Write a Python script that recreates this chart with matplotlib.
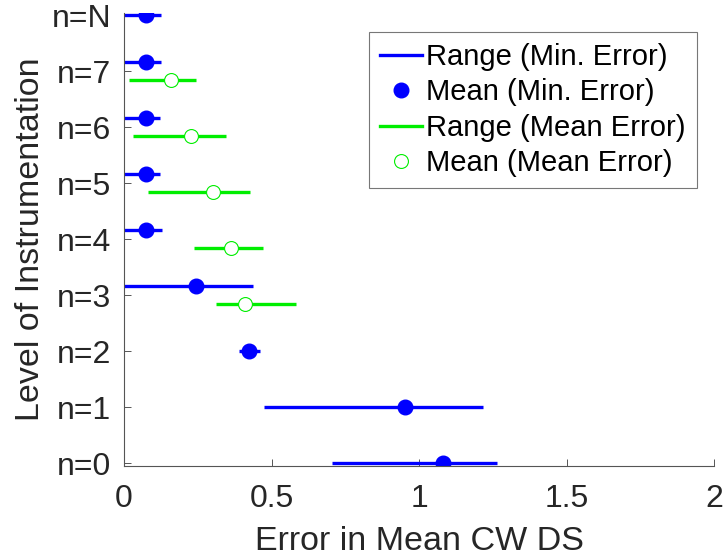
import numpy as np
import matplotlib.pyplot as plt
from matplotlib.lines import Line2D

plt.rcParams['font.family'] = ['Liberation Sans', 'DejaVu Sans']

# Livelli di strumentazione (dal basso verso l'alto)
livelli = ['n=0', 'n=1', 'n=2', 'n=3', 'n=4', 'n=5', 'n=6', 'n=7', 'n=N']

# Errore minimo: min, media, max per livello
min_lo   = [0.703, 0.475, 0.390, 0.000, 0.000, 0.000, 0.000, 0.000, 0.000]
min_mean = [1.081, 0.953, 0.424, 0.245, 0.074, 0.074, 0.076, 0.074, 0.074]
min_hi   = [1.263, 1.215, 0.462, 0.437, 0.127, 0.123, 0.123, 0.125, 0.125]

# Errore medio (solo n=3..7)
liv_mean  = [3, 4, 5, 6, 7]
mean_lo   = [0.311, 0.237, 0.080, 0.030, 0.017]
mean_mean = [0.409, 0.364, 0.302, 0.228, 0.160]
mean_hi   = [0.582, 0.472, 0.427, 0.345, 0.245]

blu = '#0000ff'
verde = '#00ee00'
off = 0.16

fig = plt.figure(figsize=(7.24, 5.6), dpi=100)
ax = fig.add_axes([0.1713, 0.1684, 0.8153, 0.8076])

y = np.arange(len(livelli), dtype=float)
y_blu = y.copy()
for k in liv_mean:
    y_blu[k] = k + off
y_verde = np.array(liv_mean) - off

for i in range(len(livelli)):
    ax.plot([min_lo[i], min_hi[i]], [y_blu[i], y_blu[i]], color=blu, lw=2.4, solid_capstyle='butt')
ax.plot(min_mean, y_blu, 'o', color=blu, ms=10.5, ls='none')

for i in range(len(liv_mean)):
    ax.plot([mean_lo[i], mean_hi[i]], [y_verde[i], y_verde[i]], color=verde, lw=2.4, solid_capstyle='butt')
ax.plot(mean_mean, y_verde, 'o', mfc='white', mec=verde, ms=10, mew=0.8, ls='none')

ax.set_xlim(0, 2)
ax.set_ylim(-0.04, 8.03)
ax.set_xticks([0, 0.5, 1, 1.5, 2])
ax.set_xticklabels(['0', '0.5', '1', '1.5', '2'])
ax.set_yticks(y)
ax.set_yticklabels(livelli)

for s in ['top', 'right']:
    ax.spines[s].set_visible(False)
for s in ['left', 'bottom']:
    ax.spines[s].set_color('#555555')
    ax.spines[s].set_linewidth(0.8)
ax.tick_params(direction='in', length=5, width=0.7, color='#555555',
               labelsize=23, labelcolor='#262626')
ax.tick_params(axis='x', pad=13)
ax.tick_params(axis='y', pad=9)

ax.set_xlabel('Error in Mean CW DS', fontsize=24.5, color='#262626', labelpad=9)
ax.set_ylabel('Level of Instrumentation', fontsize=24.5, color='#262626', labelpad=4)

handles = [
    Line2D([], [], color=blu, lw=2.4),
    Line2D([], [], color=blu, marker='o', ls='none', ms=10.5),
    Line2D([], [], color=verde, lw=2.4),
    Line2D([], [], marker='o', ls='none', mfc='white', mec=verde, ms=10, mew=0.8),
]
labels = ['Range (Min. Error)', 'Mean (Min. Error)', 'Range (Mean Error)', 'Mean (Mean Error)']
leg = ax.legend(handles, labels, loc='upper right', bbox_to_anchor=(0.9707, 0.9587),
                fontsize=21, frameon=True, fancybox=False, handlelength=1.45,
                handletextpad=0.15, borderpad=0.38, labelspacing=0.25, borderaxespad=0)
leg.get_frame().set_edgecolor('#555555')
leg.get_frame().set_linewidth(0.8)

plt.savefig('out.png', dpi=100)
